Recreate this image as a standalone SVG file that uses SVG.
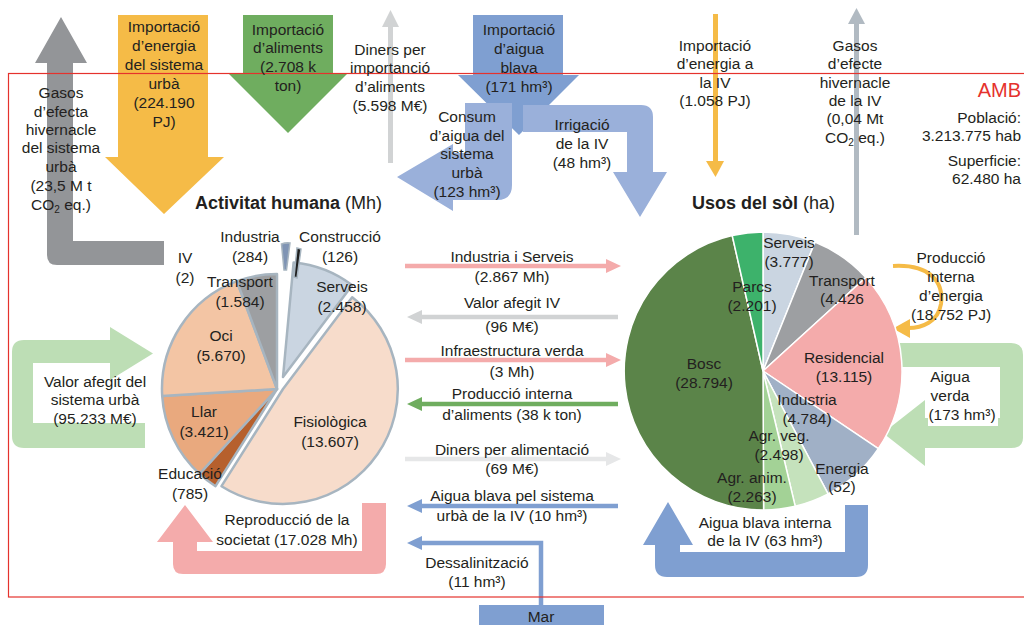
<svg xmlns="http://www.w3.org/2000/svg" width="1024" height="625" viewBox="0 0 1024 625">
  <style>
    text { font-family: "Liberation Sans", Arial, Helvetica, sans-serif; font-size: 15.5px; fill: #231f20; text-anchor: middle; }
    .title { font-size: 18px; text-anchor: start; }
    .bold { font-weight: bold; }
    .right { text-anchor: end; }
    .amb { font-size: 20px; fill: #e5322d; }
    .sub { font-size: 10px; }
    .hs { stroke: #a7b5c0; stroke-width: 2.5; stroke-linejoin: round; }
    .ls { stroke: #ffffff; stroke-width: 1.5; stroke-linejoin: round; }
    .pink { fill: #f4abab; }
    .lgreen { fill: #bddeb5; }
    .blue { fill: #7f9fd1; }
    .lblue { fill: #9ab0da; }
    .orange { fill: #f5bb47; }
    .line { fill: none; stroke-width: 4.5; }
  </style>

  <!-- flows -->
  <g id="connectors">
    <!-- greenhouse gases of the urban system -->
    <path fill="#939598" d="M47,63 H35 L61,17 L87,63 H73 V241 H164 V265 H57 Q47,265 47,255 Z"/>
    <!-- energy import, urban system -->
    <path class="orange" d="M118,15 H208 V157 H224 L164,214 L105,157 H118 Z"/>
    <!-- food import -->
    <path fill="#6fad5f" d="M243,15 H333 V73 H348 L288,133 L228,73 H243 Z"/>
    <!-- money for food import -->
    <rect x="388" y="26" width="5" height="137" fill="#d1d3d4"/>
    <polygon points="382,27 390.5,10 399,27" fill="#d1d3d4"/>
    <!-- blue water import and its two branches -->
    <path class="blue" d="M473,15 H563 V75 H579 L519,135 L458,75 H473 Z"/>
    <path class="lblue" d="M465,103 H512 V185 Q512,200 497,200 H453 V211 L397,177 L453,144 V153 H465 Z"/>
    <path class="lblue" d="M523,105 H641 Q653,105 653,117 V172 H667 L640,217 L613,172 H627 V132 H523 Z"/>
    <!-- energy import, green infrastructure -->
    <rect x="713" y="14" width="5" height="148" class="orange"/>
    <polygon points="706,161 724,161 715.5,177" class="orange"/>
    <!-- greenhouse gases, green infrastructure -->
    <rect x="854" y="23" width="5" height="212" fill="#b1bac2"/>
    <polygon points="848,24 865,24 856.5,8" fill="#b1bac2"/>

    <!-- exchanges between human activity and land uses -->
    <line x1="405" y1="266" x2="608" y2="266" class="line" stroke="#f4abab"/>
    <polygon points="606,259 621,266 606,273" class="pink"/>
    <line x1="420" y1="317" x2="618" y2="317" class="line" stroke="#d1d3d4"/>
    <polygon points="422,310 407,317 422,324" fill="#d1d3d4"/>
    <line x1="405" y1="360" x2="608" y2="360" class="line" stroke="#f4abab"/>
    <polygon points="606,353 621,360 606,367" class="pink"/>
    <line x1="420" y1="404" x2="618" y2="404" class="line" stroke="#6fad5f"/>
    <polygon points="422,397 407,404 422,411" fill="#6fad5f"/>
    <line x1="405" y1="459" x2="608" y2="459" class="line" stroke="#e6e7e8"/>
    <polygon points="606,452 621,459 606,466" fill="#e6e7e8"/>
    <line x1="420" y1="506" x2="618" y2="506" class="line" stroke="#7f9fd1"/>
    <polygon points="422,499 407,506 422,513" class="blue"/>
    <!-- desalination from the sea -->
    <polyline points="541,606 541,543 420,543" class="line" stroke="#7f9fd1"/>
    <polygon points="422,536 407,543 422,550" class="blue"/>

    <!-- loops -->
    <path class="lgreen" d="M110,327 L153,353.5 L110,380 V363 H33 V423 H145 V448 H24 Q12,448 12,436 V352 Q12,340 24,340 H110 Z"/>
    <path class="pink" d="M362,503 H386 V564 Q386,574 376,574 H183 Q173,574 173,564 V542 H157 L185,505 L213,542 H197 V551 H362 Z"/>
    <path class="lgreen" d="M893,343 H1011 Q1023,343 1023,355 V438 Q1023,448 1011,448 H925 V466 L883,433 L925,400 V418 H1000 V367 H893 Z"/>
    <rect x="928" y="404" width="70" height="22" fill="#ffffff"/>
    <path class="blue" d="M845,505 H868 V565 Q868,577 856,577 H667 Q655,577 655,565 V545 H643 L668,502 L693,545 H680 V552 H845 Z"/>
    <!-- internal energy production loop -->
    <path d="M893,266 C930,264 944,282 941,304 C938,322 922,328 908,328" fill="none" stroke="#f5bb47" stroke-width="4"/>
    <polygon points="910,319 893,328.5 910,338" class="orange"/>
  </g>

  <!-- sea -->
  <g id="mar">
    <rect x="479" y="605" width="125" height="20" class="blue"/>
    <text x="541" y="622">Mar</text>
  </g>

  <!-- human activity pie -->
  <g id="activitat-humana">
    <path class="hs" fill="#cad5e1" d="M283,377 L293.6,262.5 A115,115 0 0 1 352.2,285.2 Z"/>
    <path class="hs" fill="#f7dccb" d="M283,389 L352.2,297.2 A115,115 0 0 1 221.5,486.2 Z"/>
    <path class="hs" fill="#b6602d" d="M277,389 L215.5,486.2 A115,115 0 0 1 199.5,473.9 Z"/>
    <path class="hs" fill="#e9a97e" d="M277,389 L199.5,473.9 A115,115 0 0 1 162.2,396 Z"/>
    <path class="hs" fill="#f3c5a4" d="M277,389 L162.2,396 A115,115 0 0 1 236.9,281.2 Z"/>
    <path class="hs" fill="#9d9fa2" d="M277,389 L236.9,281.2 A115,115 0 0 1 277,274 Z"/>
    <path stroke="#a7b5c0" stroke-width="1.5" fill="#7f94b4" d="M281.5,244 Q285.5,242.5 290,243 L286.5,270 L284,270 Z"/>
    <path stroke="#a7b5c0" stroke-width="1.5" fill="#1f1f1f" d="M297,248 L301,249 L297,278 L294,277 Z"/>

    <text class="title" x="195" y="209"><tspan class="bold">Activitat humana</tspan> (Mh)</text>
    <text x="250" y="242">Industria</text>
    <text x="250" y="262">(284)</text>
    <text x="340" y="242">Construcció</text>
    <text x="340" y="262">(126)</text>
    <text x="185" y="263">IV</text>
    <text x="185" y="283">(2)</text>
    <text x="240" y="287">Transport</text>
    <text x="240" y="307">(1.584)</text>
    <text x="342" y="292">Serveis</text>
    <text x="342" y="312">(2.458)</text>
    <text x="221" y="341">Oci</text>
    <text x="221" y="361">(5.670)</text>
    <text x="204" y="417">Llar</text>
    <text x="204" y="437">(3.421)</text>
    <text x="330" y="427">Fisiològica</text>
    <text x="330" y="447">(13.607)</text>
    <text x="190" y="479">Educació</text>
    <text x="190" y="499">(785)</text>
  </g>

  <!-- land uses pie -->
  <g id="usos-sol">
    <path class="ls" fill="#cad5e1" d="M763,371 L763,232 A139,139 0 0 1 815,242.1 Z"/>
    <path class="ls" fill="#9d9fa2" d="M763,371 L815,242.1 A139,139 0 0 1 865.8,277.5 Z"/>
    <path class="ls" fill="#f4abab" d="M763,371 L865.8,277.5 A139,139 0 0 1 878.3,448.7 Z"/>
    <path class="ls" fill="#a0b0c6" d="M763,371 L878.3,448.7 A139,139 0 0 1 828.1,493.8 Z"/>
    <path class="ls" fill="#c5e2bc" d="M763,371 L828.1,493.8 A139,139 0 0 1 795.2,506.2 Z"/>
    <path class="ls" fill="#a3d296" d="M763,371 L795.2,506.2 A139,139 0 0 1 763.6,510 Z"/>
    <path class="ls" fill="#5b8449" d="M763,371 L763.6,510 A139,139 0 0 1 732.2,235.5 Z"/>
    <path class="ls" fill="#3db26b" d="M763,371 L732.2,235.5 A139,139 0 0 1 763,232 Z"/>

    <text class="title" x="692" y="209"><tspan class="bold">Usos del sòl</tspan> (ha)</text>
    <text x="789" y="248">Serveis</text>
    <text x="789" y="267">(3.777)</text>
    <text x="752" y="292">Parcs</text>
    <text x="752" y="311">(2.201)</text>
    <text x="842" y="286">Transport</text>
    <text x="842" y="304">(4.426</text>
    <text x="844" y="363">Residencial</text>
    <text x="844" y="382">(13.115)</text>
    <text x="704" y="369">Bosc</text>
    <text x="704" y="388">(28.794)</text>
    <text x="807" y="405">Industria</text>
    <text x="807" y="424">(4.784)</text>
    <text x="779" y="441">Agr. veg.</text>
    <text x="779" y="460">(2.498)</text>
    <text x="752" y="483">Agr. anim.</text>
    <text x="752" y="502">(2.263)</text>
    <text x="842" y="474">Energia</text>
    <text x="842" y="492">(52)</text>
  </g>

  <!-- metropolitan area boundary -->
  <rect x="8.5" y="73.5" width="1030" height="523.5" fill="none" stroke="#e5322d" stroke-width="1.2"/>

  <g id="amb-info">
    <text class="amb right" x="1021" y="97">AMB</text>
    <text class="right" x="1021" y="123">Població:</text>
    <text class="right" x="1021" y="141">3.213.775 hab</text>
    <text class="right" x="1021" y="166">Superficie:</text>
    <text class="right" x="1021" y="184">62.480 ha</text>
  </g>

  <!-- flow labels -->
  <g id="flow-labels">
    <text x="61" y="98">Gasos</text>
    <text x="61" y="117">d’efecta</text>
    <text x="61" y="135">hivernacle</text>
    <text x="61" y="153">del sistema</text>
    <text x="61" y="172">urbà</text>
    <text x="61" y="191">(23,5 M t</text>
    <text x="61" y="210">CO<tspan class="sub" dy="3">2</tspan><tspan dy="-3"> eq.)</tspan></text>

    <text x="164" y="32">Importació</text>
    <text x="164" y="51">d’energia</text>
    <text x="164" y="70">del sistema</text>
    <text x="164" y="89">urbà</text>
    <text x="164" y="108">(224.190</text>
    <text x="164" y="127">PJ)</text>

    <text x="288" y="35">Importació</text>
    <text x="288" y="53">d’aliments</text>
    <text x="288" y="72">(2.708 k</text>
    <text x="288" y="91">ton)</text>

    <text x="390" y="55">Diners per</text>
    <text x="390" y="73">importanció</text>
    <text x="390" y="92">d’aliments</text>
    <text x="390" y="111">(5.598 M€)</text>

    <text x="519" y="35">Importació</text>
    <text x="519" y="54">d’aigua</text>
    <text x="519" y="73">blava</text>
    <text x="519" y="92">(171 hm³)</text>

    <text x="467" y="122">Consum</text>
    <text x="467" y="141">d’aigua del</text>
    <text x="467" y="159">sistema</text>
    <text x="467" y="178">urbà</text>
    <text x="467" y="197">(123 hm³)</text>

    <text x="582" y="130">Irrigació</text>
    <text x="582" y="149">de la IV</text>
    <text x="582" y="168">(48 hm³)</text>

    <text x="715" y="51">Importació</text>
    <text x="715" y="69">d’energia a</text>
    <text x="715" y="88">la IV</text>
    <text x="715" y="106">(1.058 PJ)</text>

    <text x="855" y="51">Gasos</text>
    <text x="855" y="69">d’efecte</text>
    <text x="855" y="88">hivernacle</text>
    <text x="855" y="106">de la IV</text>
    <text x="855" y="124">(0,04 Mt</text>
    <text x="855" y="143">CO<tspan class="sub" dy="3">2</tspan><tspan dy="-3"> eq.)</tspan></text>

    <text x="512" y="262">Industria i Serveis</text>
    <text x="512" y="282">(2.867 Mh)</text>
    <text x="512" y="308">Valor afegit IV</text>
    <text x="512" y="332">(96 M€)</text>
    <text x="512" y="356">Infraestructura verda</text>
    <text x="512" y="377">(3 Mh)</text>
    <text x="512" y="399">Producció interna</text>
    <text x="512" y="420">d’aliments (38 k ton)</text>
    <text x="512" y="455">Diners per alimentació</text>
    <text x="512" y="474">(69 M€)</text>
    <text x="512" y="501">Aigua blava pel sistema</text>
    <text x="512" y="521">urbà de la IV (10 hm³)</text>
    <text x="477" y="568">Dessalinització</text>
    <text x="477" y="587">(11 hm³)</text>

    <text x="95" y="387">Valor afegit del</text>
    <text x="95" y="405">sistema urbà</text>
    <text x="95" y="424">(95.233 M€)</text>

    <text x="287" y="525">Reproducció de la</text>
    <text x="287" y="545">societat (17.028 Mh)</text>

    <text x="951" y="263">Producció</text>
    <text x="951" y="282">interna</text>
    <text x="951" y="301">d’energia</text>
    <text x="951" y="320">(18.752 PJ)</text>

    <text x="950" y="382">Aigua</text>
    <text x="950" y="401">verda</text>
    <text x="962" y="420">(173 hm³)</text>

    <text x="765" y="528">Aigua blava interna</text>
    <text x="765" y="546">de la IV (63 hm³)</text>
  </g>
</svg>
